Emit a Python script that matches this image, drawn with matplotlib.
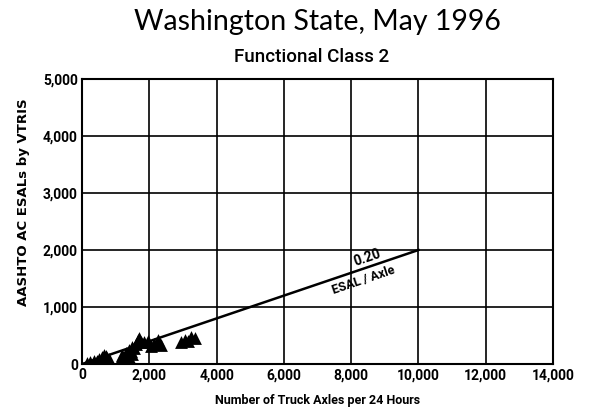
import matplotlib
matplotlib.use("Agg")
import matplotlib.pyplot as plt
import numpy as np

title = "Washington State, May 1996"
subtitle = "Functional Class 2"
xlabel = "Number of Truck Axles per 24 Hours"
ylabel = "AASHTO AC ESALs by VTRIS"

# Scatter data (truck axles, ESALs)
axles = [150, 250, 350, 450, 500, 600, 650, 700, 750, 800,
         1150, 1200, 1250, 1300, 1350, 1400, 1450, 1500, 1550, 1600, 1650, 1700, 1750,
         1300, 1400, 1500,
         1850, 1950, 2050, 2150, 2250, 2350,
         2950, 3050, 3150, 3250, 3350]
esals = [20, 40, 60, 50, 80, 120, 160, 140, 100, 90,
         100, 150, 80, 200, 170, 250, 220, 300, 280, 350, 420, 460, 380,
         90, 120, 180,
         380, 400, 320, 360, 430, 330,
         380, 420, 400, 470, 450]

# Reference line 0.20 ESAL / Axle
line_x = [0, 10000]
line_y = [0, 2000]

xticks = [0, 2000, 4000, 6000, 8000, 10000, 12000, 14000]
yticks = [0, 1000, 2000, 3000, 4000, 5000]

fam = ['Roboto', 'DejaVu Sans']

fig = plt.figure(figsize=(5.93, 4.17), dpi=100)
ax = fig.add_axes([0.1383, 0.127, 0.7942, 0.6836])
ax.set_xlim(0, 14000)
ax.set_ylim(0, 5000)
ax.set_xticks(xticks)
ax.set_yticks(yticks)
ax.set_xticklabels([f"{v:,}" for v in xticks], family=fam, fontweight='bold', fontsize=10)
ax.set_yticklabels([f"{v:,}" for v in yticks], family=fam, fontweight='bold', fontsize=10)
ax.tick_params(length=0, pad=3)
ax.grid(True, color='black', linewidth=1.2)
ax.set_axisbelow(True)
for s in ax.spines.values():
    s.set_linewidth(1.5)
    s.set_color('black')

ax.plot(line_x, line_y, color='black', linewidth=1.8, zorder=3)
ax.scatter(axles, esals, marker='^', s=85, color='black', zorder=4, linewidths=0)

# line label
p0 = ax.transData.transform((0, 0))
p1 = ax.transData.transform((10000, 2000))
ang = np.degrees(np.arctan2(p1[1] - p0[1], p1[0] - p0[0]))
ax.text(8550, 1710 + 30, "0.20", rotation=ang, rotation_mode='anchor', ha='center', va='bottom',
        family=fam, fontsize=10, fontweight='bold')
ax.text(8300, 1660 - 90, "ESAL / Axle", rotation=ang, rotation_mode='anchor', ha='center', va='top',
        family=fam, fontsize=9, fontweight='bold')

ax.set_xlabel(xlabel, family=fam, fontweight='bold', fontsize=9)
ax.set_ylabel(ylabel, family='DejaVu Sans', fontweight='bold', fontsize=9.5)
ax.xaxis.set_label_coords(0.5, -0.105)
ax.yaxis.set_label_coords(-0.11, 0.568)

fig.text(0.536, 0.928, title, ha='center', va='baseline', fontsize=20.5, family=['Lato', 'DejaVu Sans'])
fig.text(0.525, 0.851, subtitle, ha='center', va='baseline', fontsize=13.5, family=fam, fontweight='medium')

fig.savefig("out.png", dpi=100)
